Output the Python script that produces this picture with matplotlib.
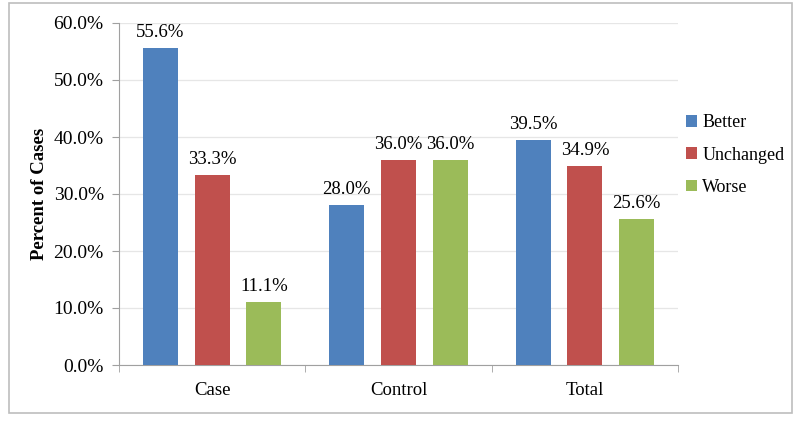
import numpy as np
import matplotlib.pyplot as plt
from matplotlib.patches import Rectangle
from matplotlib.ticker import FuncFormatter, FixedLocator

plt.rcParams['font.family'] = ['Liberation Serif', 'DejaVu Serif']

groups = ['Case', 'Control', 'Total']
series = ['Better', 'Unchanged', 'Worse']
better = [55.6, 28.0, 39.5]
unchanged = [33.3, 36.0, 34.9]
worse = [11.1, 36.0, 25.6]
colors = ['#4F81BD', '#C0504D', '#9BBB59']

fig = plt.figure(figsize=(8, 4.22), dpi=100)
# outer chart frame
fig.patches.append(Rectangle((8.5/800, 9/422), 783/800, 410/422, transform=fig.transFigure,
                             fill=False, edgecolor='#BEBEBE', linewidth=1.2))
ax = fig.add_axes([119/800, 57/422, 559/800, 342/422])

x = np.arange(len(groups))
w = 0.188
step = 0.278
for i, (vals, name, c) in enumerate(zip([better, unchanged, worse], series, colors)):
    pos = x + (i - 1) * step
    bars = ax.bar(pos, np.array(vals) / 100, width=w, color=c, label=name, zorder=3)
    for b, v in zip(bars, vals):
        ax.annotate(f'{v:.1f}%', (b.get_x() + b.get_width() / 2, b.get_height()),
                    xytext=(0, 5), textcoords='offset points', ha='center', va='bottom',
                    fontsize=13.5)

ax.set_xlim(-0.5, 2.5)
ax.set_ylim(0, 0.6)
ax.set_yticks(np.arange(0, 0.61, 0.1))
ax.yaxis.set_major_formatter(FuncFormatter(lambda v, p: f'{v*100:.1f}%'))
ax.set_xticks(x)
ax.set_xticklabels(groups, fontsize=13.5)
ax.xaxis.set_minor_locator(FixedLocator([-0.5, 0.5, 1.5, 2.5]))
ax.tick_params(axis='x', which='major', length=0, pad=12)
ax.tick_params(axis='x', which='minor', length=5, color='#A0A0A0')
ax.tick_params(axis='y', length=5, color='#A0A0A0', labelsize=14, pad=6)
ax.grid(axis='y', color='#E6E6E6', linewidth=0.9, zorder=0)
for s in ['top', 'right']:
    ax.spines[s].set_visible(False)
for s in ['left', 'bottom']:
    ax.spines[s].set_color('#A0A0A0')
ax.set_ylabel('Percent of Cases', fontsize=13.5, fontweight='bold', labelpad=4)

ax.legend(loc='center left', bbox_to_anchor=(0.995, 0.614), frameon=False, fontsize=13,
          handlelength=0.6, handleheight=0.6, handletextpad=0.3, labelspacing=0.85,
          borderaxespad=0.2)

fig.savefig('out.png', dpi=100)
